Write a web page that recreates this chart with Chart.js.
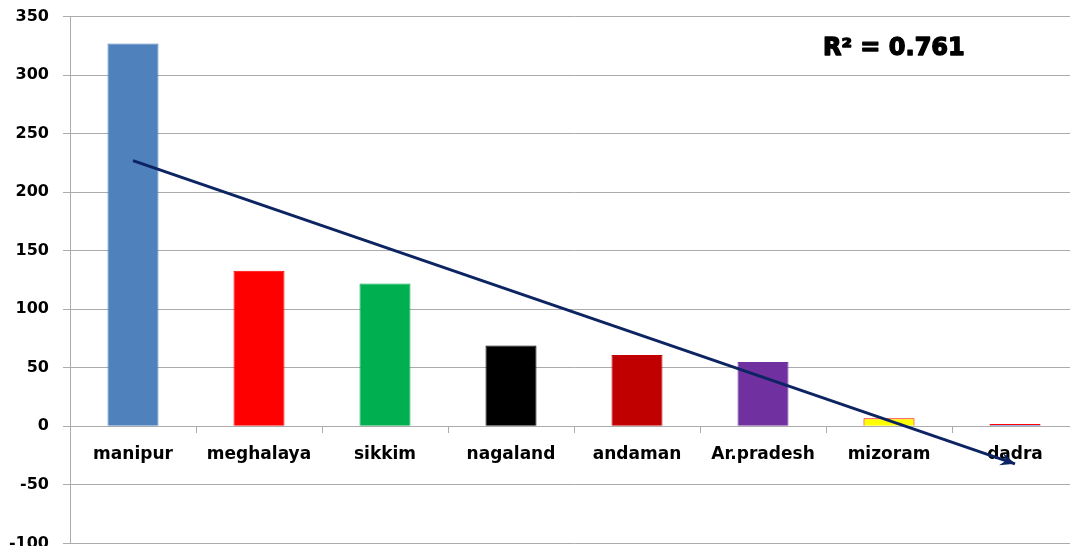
<!DOCTYPE html>
<html>
<head>
<meta charset="utf-8">
<title>Trend by state</title>
<script src="https://cdn.jsdelivr.net/npm/chart.js@4.4.1/dist/chart.umd.min.js"></script>
<style>
  html, body { margin: 0; padding: 0; background: #fff; }
  #wrap { width: 1070px; height: 546px; overflow: hidden; position: relative; }
  #chart { display: block; margin-top: -7px; }
</style>
</head>
<body>
<div id="wrap">
  <canvas id="chart" width="1085" height="574"></canvas>
</div>
<script>
// values per state
const states = ['manipur', 'meghalaya', 'sikkim', 'nagaland', 'andaman', 'Ar.pradesh', 'mizoram', 'dadra'];
const values = [327, 133, 122, 69, 61, 55, 7, 2];
const barColors = ['#4f81bd', '#ff0000', '#00b050', '#000000', '#c00000', '#7030a0', '#ffff00', '#4f81bd'];
const barBorders = ['#4f81bd', '#ff0000', '#00b050', '#000000', '#c00000', '#7030a0', '#ff0000', '#ff0000'];

// linear trend, first and last state
const trendStates = ['manipur', 'dadra'];
const trendValues = [227, -32];
const rSquaredText = 'R\u00b2 = 0.761';

const gridGray = '#ababab';
const trendColor = '#0d2463';

// arrow head at the end of the trend line + R² label
const trendDecor = {
  id: 'trendDecor',
  afterDatasetsDraw(chart) {
    const ctx = chart.ctx;
    const pts = chart.getDatasetMeta(1).data;
    if (pts.length < 2) return;
    const a = pts[0], b = pts[pts.length - 1];
    const ang = Math.atan2(b.y - a.y, b.x - a.x);
    const len = 16, spread = 0.42;
    ctx.save();
    ctx.fillStyle = trendColor;
    ctx.beginPath();
    ctx.moveTo(b.x, b.y);
    ctx.lineTo(b.x - len * Math.cos(ang - spread), b.y - len * Math.sin(ang - spread));
    ctx.lineTo(b.x - len * 0.6 * Math.cos(ang), b.y - len * 0.6 * Math.sin(ang));
    ctx.lineTo(b.x - len * Math.cos(ang + spread), b.y - len * Math.sin(ang + spread));
    ctx.closePath();
    ctx.fill();
    ctx.restore();
  },
  afterDraw(chart) {
    const ctx = chart.ctx;
    ctx.save();
    ctx.font = 'bold 24px "DejaVu Sans"';
    ctx.fillStyle = '#000';
    ctx.strokeStyle = '#000';
    ctx.lineWidth = 1.4;
    ctx.lineJoin = 'round';
    ctx.textAlign = 'left';
    ctx.textBaseline = 'middle';
    // canvas sits 7px above the page top
    ctx.strokeText(rSquaredText, 823, 56);
    ctx.fillText(rSquaredText, 823, 56);
    ctx.restore();
  }
};

new Chart(document.getElementById('chart'), {
  data: {
    labels: states,
    datasets: [{
      type: 'bar',
      data: values,
      backgroundColor: barColors,
      borderColor: barBorders,
      borderWidth: 1,
      categoryPercentage: 1,
      barPercentage: 0.405,
      order: 2
    }, {
      type: 'line',
      data: trendStates.map((s, i) => ({ x: s, y: trendValues[i] })),
      borderColor: trendColor,
      borderWidth: 3,
      pointRadius: 0,
      fill: false,
      order: 1
    }]
  },
  options: {
    responsive: false,
    animation: false,
    layout: { padding: { top: 9, bottom: 10, left: 0, right: 7 } },
    plugins: {
      legend: { display: false },
      tooltip: { enabled: false }
    },
    scales: {
      x: {
        position: { y: 0 },
        offset: true,
        grid: {
          offset: true,
          drawOnChartArea: false,
          drawTicks: true,
          tickLength: 6,
          color: gridGray
        },
        border: { display: true, color: gridGray },
        ticks: {
          color: '#000',
          padding: 12,
          font: { family: 'DejaVu Sans', size: 17, weight: 'bold' }
        }
      },
      y: {
        min: -100,
        max: 350,
        afterFit(scale) { scale.width = 70; },
        grid: { color: gridGray, tickLength: 7 },
        border: { display: true, color: gridGray },
        ticks: {
          stepSize: 50,
          color: '#000',
          padding: 14,
          font: { family: 'DejaVu Sans', size: 16, weight: 'bold' }
        }
      }
    }
  },
  plugins: [trendDecor]
});
</script>
</body>
</html>
